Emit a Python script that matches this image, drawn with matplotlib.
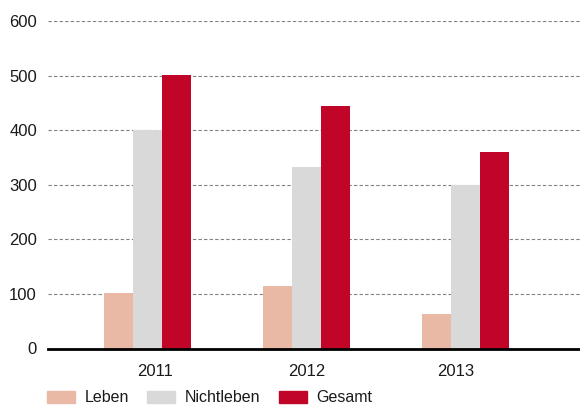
import matplotlib
matplotlib.use('Agg')
from matplotlib import pyplot as plt
from matplotlib.patches import Patch
import numpy as np

years = ['2011', '2012', '2013']
leben = [101, 115, 63]
nichtleben = [400, 332, 300]
gesamt = [501, 445, 360]

series = [('Leben', leben, '#e9b9a5'),
          ('Nichtleben', nichtleben, '#d9d9d9'),
          ('Gesamt', gesamt, '#c10529')]

plt.rcParams['font.family'] = ['Liberation Sans', 'DejaVu Sans']
plt.rcParams['font.size'] = 12

fig = plt.figure(figsize=(5.8, 4.07), dpi=100)
ax = fig.add_axes([48 / 580, 58.5 / 407, 532 / 580, 327.5 / 407])

x = np.arange(len(years))
w = 0.182
for i, (name, vals, col) in enumerate(series):
    ax.bar(x + (i - 1) * w, vals, width=w, color=col, zorder=3)

ax.set_ylim(0, 600)
ax.set_xlim(-0.626, 2.72)
ax.set_yticks(range(0, 601, 100))
ax.yaxis.grid(True, linestyle=(0, (3, 2)), color='#808080', linewidth=0.8, zorder=0)
ax.set_xticks([0.05, 1.0, 1.94])
ax.set_xticklabels(years)
ax.tick_params(axis='both', length=0, labelcolor='#1a1a1a')
ax.tick_params(axis='y', pad=8)
ax.tick_params(axis='x', pad=11)
for s in ['top', 'right', 'left']:
    ax.spines[s].set_visible(False)
ax.spines['bottom'].set_linewidth(2)
ax.spines['bottom'].set_color('black')
ax.spines['bottom'].set_zorder(4)

handles = [Patch(color=c, label=n) for n, _, c in series]
fig.legend(handles=handles, loc='lower left', bbox_to_anchor=(47 / 580, 0.004),
           ncol=3, frameon=False, borderpad=0, borderaxespad=0,
           handlelength=1.75, handleheight=0.8, handletextpad=0.6,
           columnspacing=1.15, labelcolor='#1a1a1a', fontsize=11.5)

fig.savefig('out.png', dpi=100)
